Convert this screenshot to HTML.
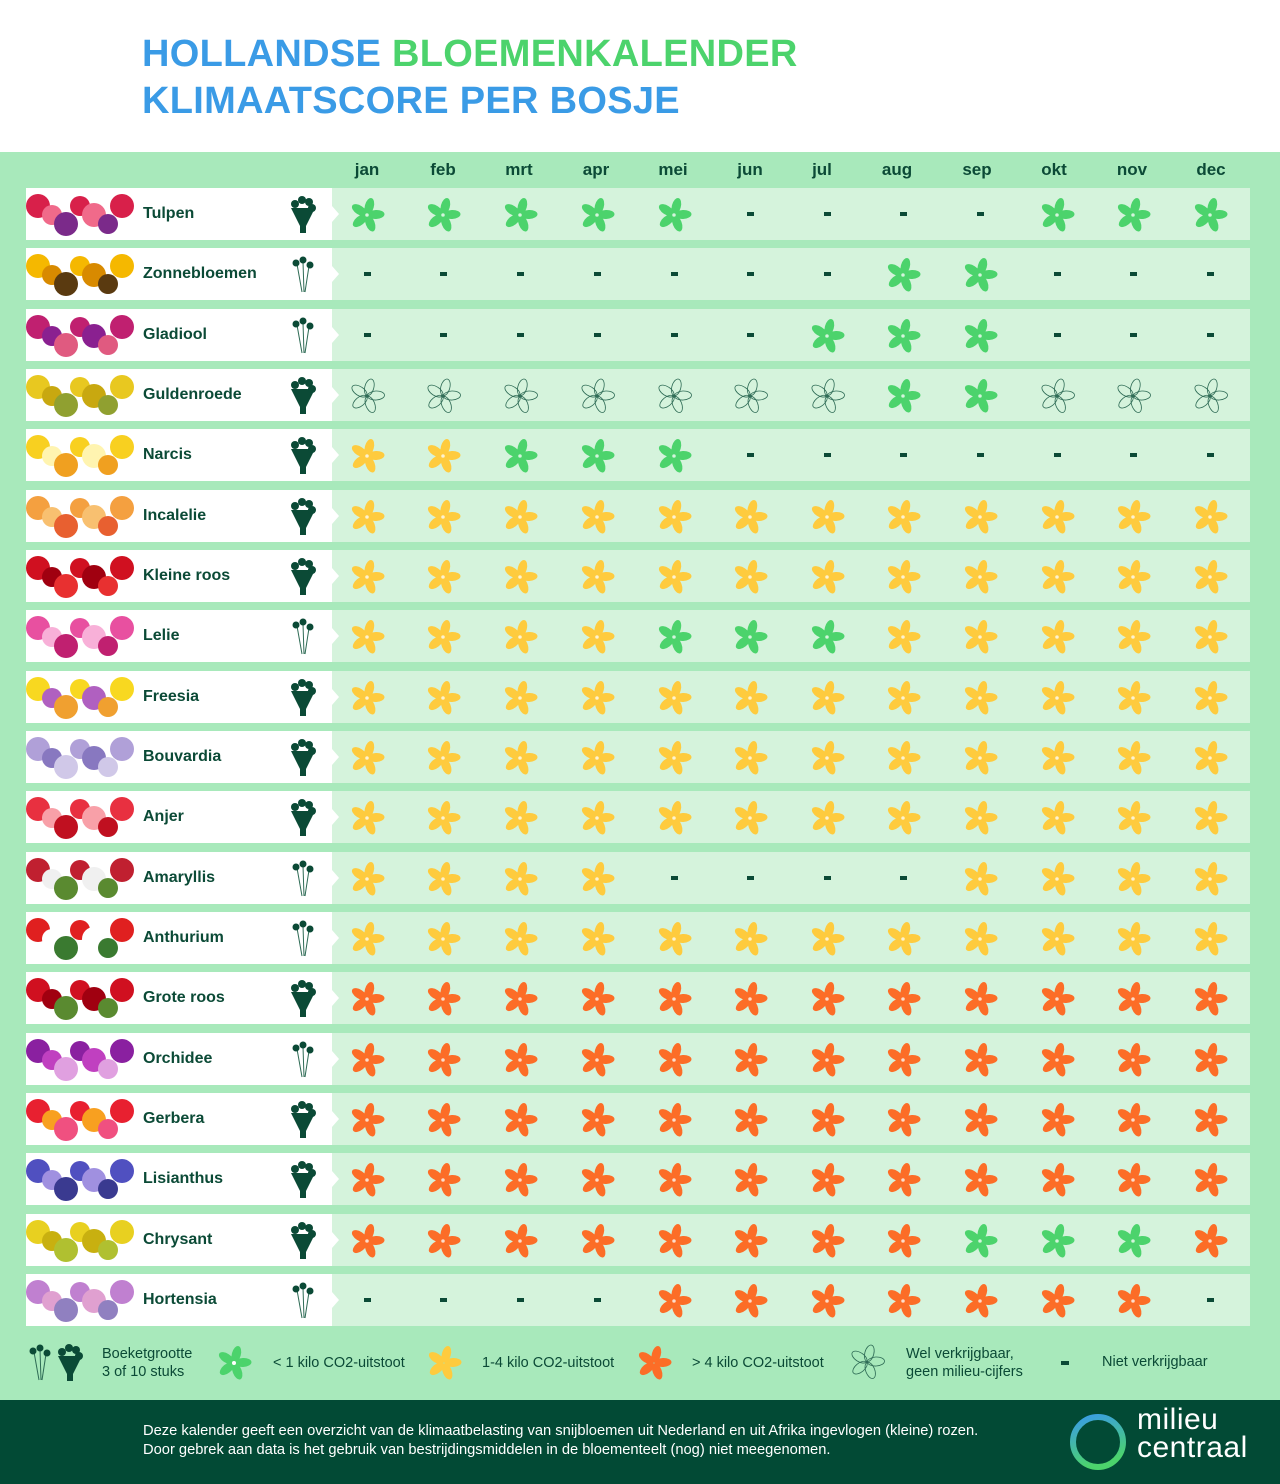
<!DOCTYPE html>
<html><head><meta charset="utf-8">
<style>
*{margin:0;padding:0;box-sizing:border-box}
body{width:1280px;height:1484px;position:relative;background:#fff;font-family:"Liberation Sans",sans-serif;overflow:hidden}
.t{position:absolute;left:142px;font-weight:bold;font-size:38px;letter-spacing:0.3px;color:#3a9be6}
.t span{color:#4cd36c}
#main{position:absolute;left:0;top:152px;width:1280px;height:1248px;background:#a8e9bb}
.m{position:absolute;top:160px;width:60px;margin-left:-30px;text-align:center;font-weight:bold;font-size:17px;color:#0b4a36}
.row{position:absolute;left:26px;width:1224px;height:52px}
.lc{position:absolute;left:0;top:0;width:306px;height:52px;background:#fff}
.rc{position:absolute;left:306px;top:0;width:918px;height:52px;background:#d5f3dc}
.notch{position:absolute;left:306px;top:18px;width:0;height:0;border-top:8px solid transparent;border-bottom:8px solid transparent;border-left:7px solid #fff}
.nm{position:absolute;left:117px;top:17px;font-weight:bold;font-size:16px;color:#0b4a36}
.ic{position:absolute}
#foot{position:absolute;left:0;top:1400px;width:1280px;height:84px;background:#024a35}
.ft{position:absolute;left:143px;color:#fff;font-size:14.7px}
.lg{position:absolute;color:#0b4a36;font-size:14.5px;line-height:18px}
</style></head><body>
<svg width="0" height="0" style="position:absolute">
<defs>
<g id="petals"><ellipse cx="0" cy="-9" rx="4.5" ry="8.5"/><ellipse cx="0" cy="-9" rx="4.5" ry="8.5" transform="rotate(72)"/><ellipse cx="0" cy="-9" rx="4.5" ry="8.5" transform="rotate(144)"/><ellipse cx="0" cy="-9" rx="4.5" ry="8.5" transform="rotate(216)"/><ellipse cx="0" cy="-9" rx="4.5" ry="8.5" transform="rotate(288)"/></g>
<g id="big"><path d="M-12,-6 L12,-6 L3,12 L-3,12Z" fill="#0b4a36"/><rect x="-3" y="12" width="6" height="7" fill="#0b4a36"/><g fill="#0b4a36"><circle cx="-8" cy="-10" r="4"/><circle cx="-1" cy="-14" r="4"/><circle cx="6" cy="-12" r="4"/><circle cx="9" cy="-6" r="4"/></g></g>
<g id="small"><g stroke="#2e6b55" stroke-width="1"><line x1="-6" y1="-10" x2="-1" y2="18"/><line x1="0" y1="-12" x2="1" y2="18"/><line x1="6" y1="-8" x2="2" y2="18"/></g><g fill="#0b4a36"><circle cx="-7" cy="-11" r="3.5"/><circle cx="0" cy="-14" r="3.5"/><circle cx="7" cy="-9" r="3.5"/></g></g>
</defs></svg>
<div class="t" style="top:33px">HOLLANDSE <span>BLOEMENKALENDER</span></div>
<div class="t" style="top:80px">KLIMAATSCORE PER BOSJE</div>
<div id="main"></div>
<div class="m" style="left:367px">jan</div><div class="m" style="left:443px">feb</div><div class="m" style="left:519px">mrt</div><div class="m" style="left:596px">apr</div><div class="m" style="left:673px">mei</div><div class="m" style="left:750px">jun</div><div class="m" style="left:822px">jul</div><div class="m" style="left:897px">aug</div><div class="m" style="left:977px">sep</div><div class="m" style="left:1054px">okt</div><div class="m" style="left:1132px">nov</div><div class="m" style="left:1211px">dec</div>
<div id="rows">
<div class="row"><div class="lc"></div><div class="rc"></div><div class="notch"></div><div class="nm">Tulpen</div></div>
<div class="row"><div class="lc"></div><div class="rc"></div><div class="notch"></div><div class="nm">Zonnebloemen</div></div>
<div class="row"><div class="lc"></div><div class="rc"></div><div class="notch"></div><div class="nm">Gladiool</div></div>
<div class="row"><div class="lc"></div><div class="rc"></div><div class="notch"></div><div class="nm">Guldenroede</div></div>
<div class="row"><div class="lc"></div><div class="rc"></div><div class="notch"></div><div class="nm">Narcis</div></div>
<div class="row"><div class="lc"></div><div class="rc"></div><div class="notch"></div><div class="nm">Incalelie</div></div>
<div class="row"><div class="lc"></div><div class="rc"></div><div class="notch"></div><div class="nm">Kleine roos</div></div>
<div class="row"><div class="lc"></div><div class="rc"></div><div class="notch"></div><div class="nm">Lelie</div></div>
<div class="row"><div class="lc"></div><div class="rc"></div><div class="notch"></div><div class="nm">Freesia</div></div>
<div class="row"><div class="lc"></div><div class="rc"></div><div class="notch"></div><div class="nm">Bouvardia</div></div>
<div class="row"><div class="lc"></div><div class="rc"></div><div class="notch"></div><div class="nm">Anjer</div></div>
<div class="row"><div class="lc"></div><div class="rc"></div><div class="notch"></div><div class="nm">Amaryllis</div></div>
<div class="row"><div class="lc"></div><div class="rc"></div><div class="notch"></div><div class="nm">Anthurium</div></div>
<div class="row"><div class="lc"></div><div class="rc"></div><div class="notch"></div><div class="nm">Grote roos</div></div>
<div class="row"><div class="lc"></div><div class="rc"></div><div class="notch"></div><div class="nm">Orchidee</div></div>
<div class="row"><div class="lc"></div><div class="rc"></div><div class="notch"></div><div class="nm">Gerbera</div></div>
<div class="row"><div class="lc"></div><div class="rc"></div><div class="notch"></div><div class="nm">Lisianthus</div></div>
<div class="row"><div class="lc"></div><div class="rc"></div><div class="notch"></div><div class="nm">Chrysant</div></div>
<div class="row"><div class="lc"></div><div class="rc"></div><div class="notch"></div><div class="nm">Hortensia</div></div>
</div>
<svg class="ic" style="left:20px;top:1340px" width="70" height="46"><use href="#small" transform="translate(20,22)"/><use href="#big" transform="translate(50,22)"/></svg>
<div class="lg" style="left:102px;top:1345px">Boeketgrootte<br>3 of 10 stuks</div>
<svg class="ic" style="left:214px;top:1343px" width="40" height="40"><use href="#petals" fill="#4cd36c" transform="translate(20,20) rotate(15)"/><circle cx="20" cy="20" r="2" fill="#fff"/></svg>
<div class="lg" style="left:273px;top:1354px">&lt; 1 kilo CO2-uitstoot</div>
<svg class="ic" style="left:424px;top:1343px" width="40" height="40"><use href="#petals" fill="#fecb3e" transform="translate(20,20) rotate(15)"/></svg>
<div class="lg" style="left:482px;top:1354px">1-4 kilo CO2-uitstoot</div>
<svg class="ic" style="left:634px;top:1343px" width="40" height="40"><use href="#petals" fill="#fc6d27" transform="translate(20,20) rotate(15)"/></svg>
<div class="lg" style="left:692px;top:1354px">&gt; 4 kilo CO2-uitstoot</div>
<svg class="ic" style="left:847px;top:1342px" width="40" height="40"><use href="#petals" fill="none" stroke="#2e6b55" stroke-width="0.8" transform="translate(20,20) rotate(15)"/></svg>
<div class="lg" style="left:906px;top:1345px">Wel verkrijgbaar,<br>geen milieu-cijfers</div>
<div style="position:absolute;left:1061px;top:1361px;width:8px;height:4px;background:#0b4a36"></div>
<div class="lg" style="left:1102px;top:1353px">Niet verkrijgbaar</div>
<div id="foot"></div>
<div class="ft" style="top:1423px">Deze kalender geeft een overzicht van de klimaatbelasting van snijbloemen uit Nederland en uit Afrika ingevlogen (kleine) rozen.</div>
<div class="ft" style="top:1442px">Door gebrek aan data is het gebruik van bestrijdingsmiddelen in de bloementeelt (nog) niet meegenomen.</div>
<svg class="ic" style="left:1068px;top:1412px" width="62" height="62"><defs><linearGradient id="lgr" x1="0" y1="0" x2="0.3" y2="1"><stop offset="0" stop-color="#3a9be6"/><stop offset="1" stop-color="#4cd36c"/></linearGradient></defs><circle cx="30" cy="30" r="25" fill="none" stroke="url(#lgr)" stroke-width="6"/></svg>
<div style="position:absolute;left:1137px;top:1406px;color:#fff;font-size:30px;line-height:28px;letter-spacing:0.5px">milieu<br>centraal</div>
<script>
var data=["ggggg----gggb","-------gg---s","------ggg---s","wwwwwwwggwwwb","yyggg-------b","yyyyyyyyyyyyb","yyyyyyyyyyyyb","yyyygggyyyyys","yyyyyyyyyyyyb","yyyyyyyyyyyyb","yyyyyyyyyyyyb","yyyy----yyyys","yyyyyyyyyyyys","oooooooooooob","oooooooooooos","oooooooooooob","oooooooooooob","oooooooogggob","----ooooooo-s"];
var imgs=[["#d8204a","#f06a8a","#7b2a8a"],["#f5b800","#d88a00","#5a3a10"],["#c02070","#8a2090","#e05a80"],["#e8c820","#c8a810","#90a030"],["#f8d020","#fff4b0","#f0a020"],["#f4a040","#f8c070","#e86030"],["#d01020","#a00010","#e83030"],["#e850a0","#f8b0d8","#c02070"],["#f8d820","#b060c0","#f0a030"],["#b0a0d8","#8878c0","#d0c8e8"],["#e83040","#f8a0a8","#c01020"],["#c02030","#f0f0f0","#5a8a30"],["#e02020","#ffffff","#3a7a30"],["#d01020","#a00010","#5a8a30"],["#8a20a0","#c040c0","#e0a0e0"],["#e82030","#f8a020","#f05080"],["#5050c0","#a090e0","#3a3a90"],["#e8d020","#c8b010","#b0c030"],["#c080d0","#e0a0d0","#9080c0"]];
var cx=[367,443,520,597,674,750,827,903,980,1057,1133,1210];
var cols={g:"#4cd36c",y:"#fecb3e",o:"#fc6d27"};
var rows=document.querySelectorAll('.row');
rows.forEach(function(r,i){
 var top=Math.round(188+i*60.33);r.style.top=top+'px';
 var d=data[i];
 var s='<svg style="position:absolute;left:0;top:0" width="1224" height="52">';
 var c=imgs[i];
 for(var k=0;k<7;k++){s+='<circle cx="'+(12+k*14)+'" cy="'+(18+(k%3)*9)+'" r="'+(12-(k%2)*2)+'" fill="'+c[k%3]+'"/>';}
 s+='<use href="#'+(d[12]=='b'?'big':'small')+'" transform="translate(277,26)"/>';
 for(var j=0;j<12;j++){var ch=d[j],x=cx[j]-26;
  if(ch=='-')s+='<rect x="'+(x-3)+'" y="24" width="7" height="4" fill="#0b4a36"/>';
  else if(ch=='w')s+='<use href="#petals" fill="none" stroke="#2e6b55" stroke-width="0.8" transform="translate('+x+',27) rotate(15)"/><circle cx="'+x+'" cy="27" r="1.5" fill="none" stroke="#2e6b55" stroke-width="0.6"/>';
  else s+='<use href="#petals" fill="'+cols[ch]+'" transform="translate('+x+',27) rotate(15)"/><circle cx="'+x+'" cy="27" r="1.8" fill="#fff" opacity="0.7"/>';
 }
 s+='</svg>';
 r.insertAdjacentHTML('beforeend',s);
});
</script>
</body></html>
